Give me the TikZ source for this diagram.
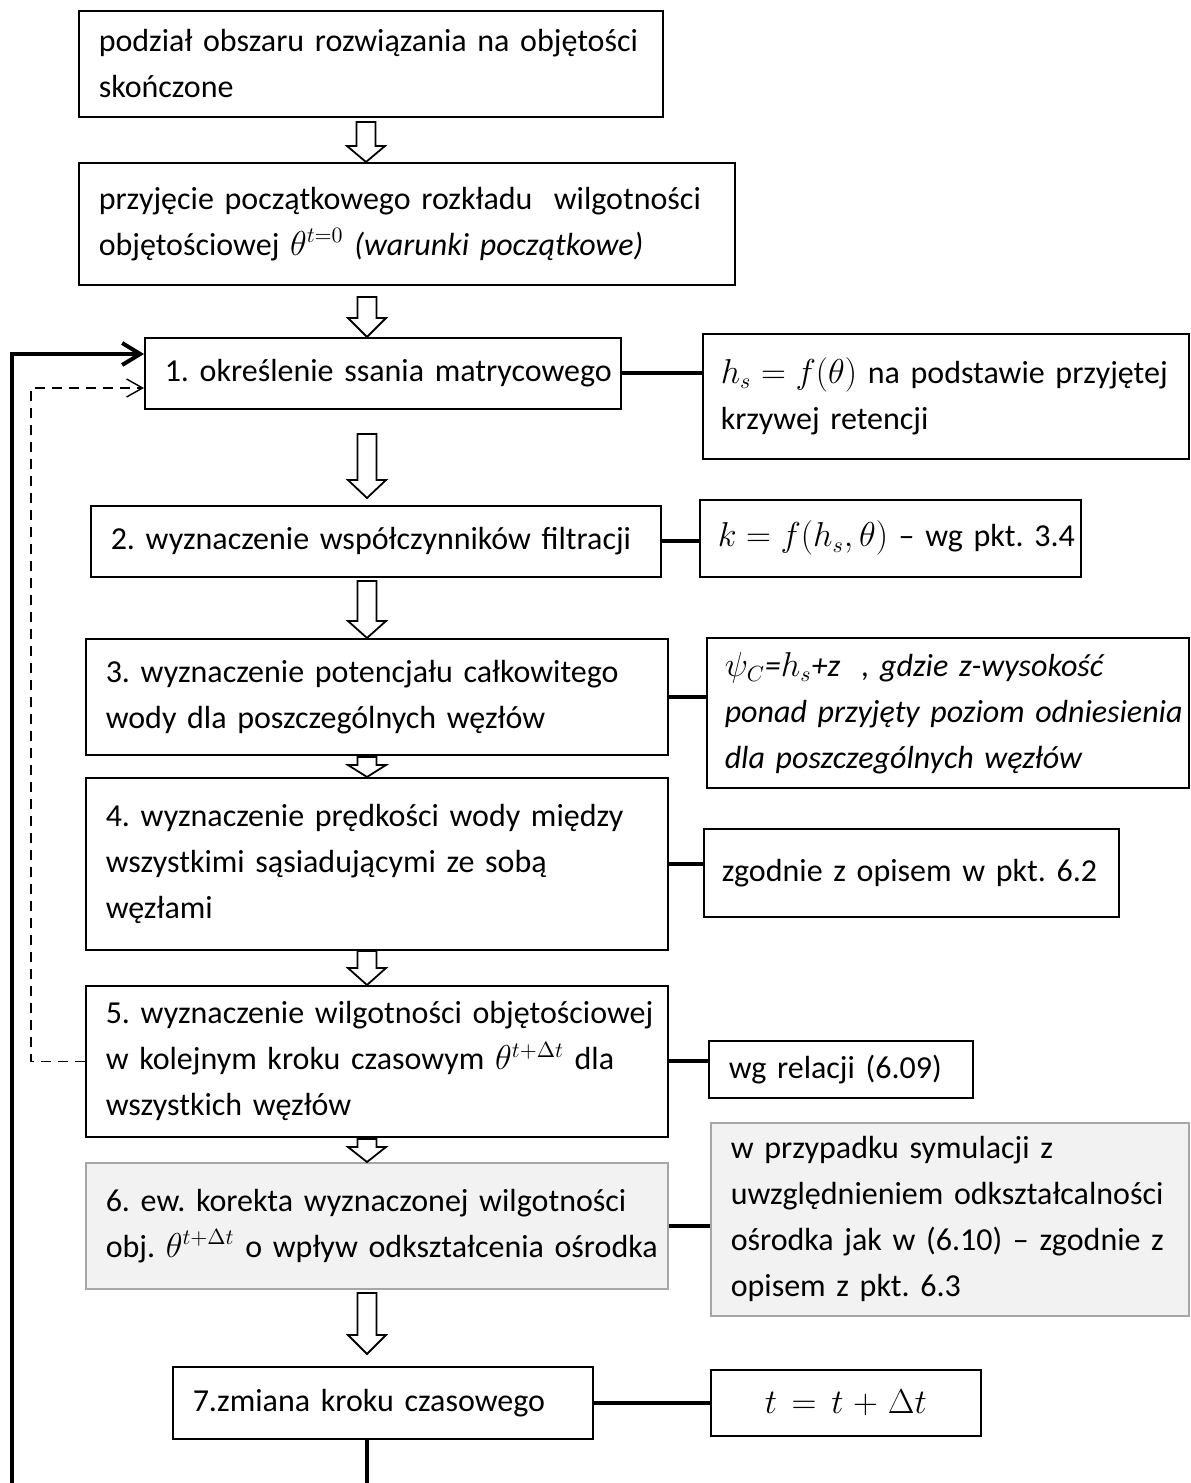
\documentclass[tikz,border=0pt]{standalone}
\usepackage{fontspec}
\setmainfont{Carlito}
\usetikzlibrary{arrows.meta,calc}
\frenchspacing
\newcommand\boxfont{\fontsize{16}{23}\selectfont\frenchspacing}
\newcommand\hollowarr[4]{\draw[harr] (#1-9.5,#2) -- (#1+9.5,#2) -- (#1+9.5,#3) -- (#1+19,#3) -- (#1,#4) -- (#1-19,#3) -- (#1-9.5,#3) -- cycle;}
\begin{document}
\begin{tikzpicture}[x=0.5pt,y=-0.5pt,
  box/.style={draw, line width=0.75pt, rectangle, anchor=north west, inner xsep=10pt, inner ysep=0pt, align=left, font=\boxfont},
  greybox/.style={box, draw=black!35, fill=black!5},
  conn/.style={line width=2pt},
  harr/.style={draw, line width=0.9pt, fill=white, line join=miter},
  loopsolid/.style={line width=2pt, line join=miter},
  loopdash/.style={line width=0.7pt, dash pattern=on 5pt off 3.5pt}
]
\useasboundingbox (0,0) rectangle (1190,1483);

% main column
\node[box, minimum width=292pt, minimum height=53pt, text width=272pt] (b0) at (78,10)
  {\mbox{podział obszaru rozwiązania na objętości}\\\mbox{skończone}};
\node[box, minimum width=328pt, minimum height=61pt, text width=308pt] (bA) at (78,162)
  {\mbox{przyjęcie początkowego rozkładu\ \ wilgotności}\\\mbox{objętościowej $\theta^{t=0}$ \textit{(warunki początkowe)}}};
\node[box, minimum width=238pt, minimum height=35.5pt, text width=218pt] (b1) at (144,337)
  {\mbox{1. określenie ssania matrycowego}};
\node[box, minimum width=285pt, minimum height=35.5pt, text width=265pt] (b2) at (90,505)
  {\mbox{2. wyznaczenie współczynników filtracji}};
\node[box, minimum width=291pt, minimum height=58pt, text width=271pt] (b3) at (85,638)
  {\mbox{3. wyznaczenie potencjału całkowitego}\\\mbox{wody dla poszczególnych węzłów}};
\node[box, minimum width=291pt, minimum height=86pt, text width=271pt] (b4) at (85,777)
  {\mbox{4. wyznaczenie prędkości wody między}\\\mbox{wszystkimi sąsiadującymi ze sobą}\\\mbox{węzłami}};
\node[box, minimum width=291pt, minimum height=75.5pt, text width=271pt] (b5) at (85,985)
  {\mbox{5. wyznaczenie wilgotności objętościowej}\\\mbox{w kolejnym kroku czasowym $\theta^{t+\Delta t}$ dla}\\\mbox{wszystkich węzłów}};
\node[greybox, minimum width=291pt, minimum height=63pt, text width=271pt] (b6) at (85,1162)
  {\mbox{6. ew. korekta wyznaczonej wilgotności}\\\mbox{obj. $\theta^{t+\Delta t}$ o wpływ odkształcenia ośrodka}};
\node[box, minimum width=210pt, minimum height=36pt, text width=190pt] (b7) at (172,1366)
  {\mbox{7.zmiana kroku czasowego}};

% side column
\node[box, minimum width=243pt, minimum height=62.5pt, text width=225pt, inner xsep=9pt] (s1) at (702,333)
  {\mbox{$h_s=f(\theta)$ na podstawie przyjętej}\\\mbox{krzywej retencji}};
\node[box, minimum width=190.5pt, minimum height=38.5pt, text width=172.5pt, inner xsep=9pt] (s2) at (699,499)
  {\mbox{$k=f(h_s,\theta)$ – wg pkt. 3.4}};
\node[box, minimum width=241pt, minimum height=75pt, text width=223pt, inner xsep=9pt] (s3) at (706,637)
  {\itshape\mbox{$\psi_C$=$h_s$+z\ \ , gdzie z-wysokość}\\\mbox{ponad przyjęty poziom odniesienia}\\\mbox{dla poszczególnych węzłów}};
\node[box, minimum width=207.5pt, minimum height=44pt, text width=189.5pt, inner xsep=9pt] (s4) at (703,828)
  {\mbox{zgodnie z opisem w pkt. 6.2}};
\node[box, minimum width=132pt, minimum height=28.5pt, text width=112pt] (s5) at (708,1040)
  {\mbox{wg relacji (6.09)}};
\node[greybox, minimum width=239pt, minimum height=96.5pt, text width=219pt] (s6) at (710,1122)
  {\mbox{w przypadku symulacji z}\\\mbox{uwzględnieniem odkształcalności}\\\mbox{ośrodka jak w (6.10) – zgodnie z}\\\mbox{opisem z pkt. 6.3}};
\node[box, minimum width=135pt, minimum height=33pt, text width=115pt, align=center] (s7) at (710,1369)
  {$t=t+\Delta t$};

% hollow arrows
\hollowarr{366}{122}{146}{162}
\hollowarr{367}{297}{318}{337}
\hollowarr{367}{434}{480}{498}
\hollowarr{367}{581}{621}{638}
\hollowarr{367}{757}{765}{777}
\hollowarr{367}{951}{968}{985}
\hollowarr{367}{1139}{1147}{1162}
\hollowarr{367}{1293}{1335}{1354}

% side connectors
\draw[conn] (b1.east) -- (b1.east -| s1.west);
\draw[conn] (b2.east) -- (b2.east -| s2.west);
\draw[conn] (b3.east) -- (b3.east -| s3.west);
\draw[conn] (b4.east) -- (b4.east -| s4.west);
\draw[conn] (b5.east) -- (b5.east -| s5.west);
\draw[conn] (b6.east) -- (b6.east -| s6.west);
\draw[conn] (b7.east) -- (b7.east -| s7.west);

% loops
\coordinate (bottomleft) at (12,1483);
\coordinate (bottommid) at (367,1483);
\coordinate (in1) at ($(b1.north west)+(0,17)$);
\coordinate (in2) at ($(b1.north west)+(0,51)$);
\coordinate (dashx) at (31,0);
\draw[loopsolid] (b7.south -| bottommid) -- (bottommid);
\draw[loopsolid, -{Straight Barb[length=9pt,width=11pt]}] (bottomleft) -- (bottomleft |- in1) -- (in1);
\draw[loopdash, -{Straight Barb[length=8pt,width=9pt]}] (b5.west) -- (b5.west -| dashx) -- (dashx |- in2) -- (in2);
\end{tikzpicture}
\end{document}
